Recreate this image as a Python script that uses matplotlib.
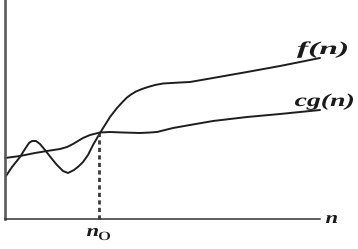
import matplotlib
matplotlib.use("Agg")
import matplotlib.pyplot as plt
from matplotlib.textpath import TextPath
from matplotlib.patches import PathPatch
from matplotlib.font_manager import FontProperties
from matplotlib.transforms import Affine2D

# curve samples: n and value, origin at the axes corner
f_n = [1, 7, 15, 20, 24, 27, 31, 35, 40, 47, 52, 58, 63, 69, 74, 78, 83, 88,
       95, 100, 105, 112, 118, 122, 126, 131, 137, 143, 150, 158, 175, 185,
       208, 242, 275, 315]
f_val = [43, 52, 62, 70, 76, 78, 78, 75, 69, 60, 54, 48, 46, 49, 53, 57, 64,
         74, 86, 94, 102, 111, 117.5, 121.5, 124.5, 127.5, 130, 132, 134,
         135.5, 136.5, 137, 141, 147, 153, 161]

g_n = [0, 15, 30, 42, 55, 62, 68, 73, 78, 85, 95, 105, 118, 135, 145, 152,
       160, 168, 185, 208, 242, 275, 315]
g_val = [61, 63, 66, 68, 70, 72, 75, 78, 81, 84, 86.5, 87, 86.5, 86, 86.5, 87,
         89, 91, 94, 98, 102, 105, 109]

n0 = 94
n0_val = 86

W, H = 358, 249
DPI = 100

fig = plt.figure(figsize=(W / DPI, H / DPI), dpi=DPI)
ax = fig.add_axes([5 / W, 30 / H, 315 / W, 219 / H])
ax.set_xlim(0, 315)
ax.set_ylim(0, 219)
ax.set_xticks([])
ax.set_yticks([])
for side in ["top", "right"]:
    ax.spines[side].set_visible(False)
ax.spines["left"].set_linewidth(1.9)
ax.spines["left"].set_color("#5a5a5a")
ax.spines["bottom"].set_linewidth(1.1)
ax.spines["bottom"].set_color("#333333")

for xs, ys in [(f_n, f_val), (g_n, g_val)]:
    ax.plot(xs, ys, color="#1e1e1e", lw=1.4, clip_on=False,
            solid_capstyle="round", solid_joinstyle="round")
ax.plot([n0, n0], [0, n0_val], color="#3a3a3a", lw=2.0,
        linestyle=(0, (1.5, 1.2)), clip_on=False)

bold_it = FontProperties(family="Liberation Serif", weight="bold", style="italic")
upright = FontProperties(family="Liberation Serif")


def label(s, left, right, baseline, size, prop):
    # glyphs in the picture are stretched sideways, so scale the path to fit
    path = TextPath((0, 0), s, size=size, prop=prop)
    ext = path.get_extents()
    sx = (right - left) / ext.width
    tr = Affine2D().translate(-ext.x0, 0).scale(sx, 1).translate(left, H - baseline)
    fig.add_artist(PathPatch(path, transform=tr, color="#1a1a1a", lw=0))


label("f(n)", 297, 347, 54, 18, bold_it)
label("cg(n)", 295, 353, 106, 18, bold_it)
label("n", 326, 337, 223, 17, bold_it)
label("n", 87, 98, 236, 17, bold_it)
label("0", 99, 110, 240, 12.5, upright)

fig.savefig("out.png", dpi=DPI)
